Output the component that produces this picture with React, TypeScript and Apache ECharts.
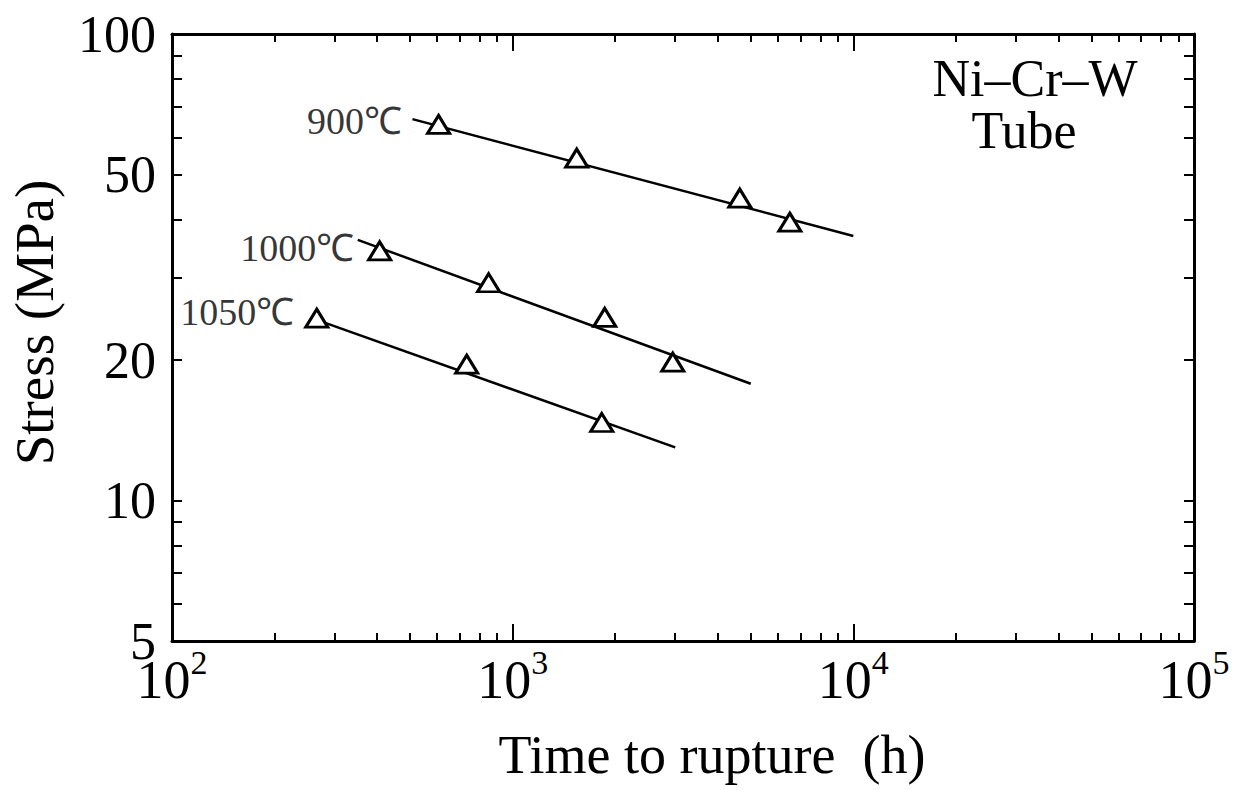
import React, { useEffect, useRef } from "react";
import * as echarts from "echarts";

const seriesNames = ["900℃", "1000℃", "1050℃"];
// measured points (time h, stress MPa)
const pts900 = [[606, 64.0], [1542, 54.2], [4642, 44.5], [6510, 39.5]];
const pts1000 = [[407, 34.3], [850, 29.3], [1863, 24.7], [2951, 19.8]];
const pts1050 = [[266, 24.6], [733, 19.6], [1826, 14.7]];
// fitted lines (start, end)
const fit900 = [[508, 65.7], [10000, 36.9]];
const fit1000 = [[351, 36.2], [5000, 17.8]];
const fit1050 = [[266, 24.4], [3000, 13.0]];

const xMajorTicks = [100, 1000, 10000, 100000];
const xMinorTicks = [200, 300, 400, 500, 600, 700, 800, 900, 2000, 3000, 4000, 5000, 6000, 7000, 8000, 9000, 20000, 30000, 40000, 50000, 60000, 70000, 80000, 90000];
const yTicks = [5, 6, 7, 8, 9, 10, 20, 30, 40, 50, 60, 70, 80, 90, 100];
const yLabels = [5, 10, 20, 50, 100];
const materialLines = ["Ni–Cr–W", "Tube"];

const FONT = "'Liberation Serif', 'Times New Roman', serif";

export default function App() {
  const ref = useRef<HTMLDivElement>(null);
  useEffect(() => {
    if (!ref.current) return;
    const chart = echarts.init(ref.current, undefined, { renderer: "svg" });
    const axisLine = { show: true, onZero: false, lineStyle: { color: "#000", width: 3 } };
    const xBase = { type: "log", logBase: 10, min: 100, max: 100000, splitLine: { show: false } };
    const yBase = { type: "log", logBase: 10, min: 5, max: 100, splitLine: { show: false } };
    const makeFit = (name: string, d: number[][]) => ({
      type: "line",
      name,
      data: d,
      showSymbol: false,
      symbol: "none",
      lineStyle: { color: "#000", width: 2.5 },
      xAxisIndex: 0,
      yAxisIndex: 0,
      z: 2,
    });
    const makePts = (name: string, d: number[][]) => ({
      type: "scatter",
      name: name + " data",
      data: d,
      symbol: "triangle",
      symbolSize: [22, 18],
      itemStyle: { color: "#fff", borderColor: "#000", borderWidth: 3, opacity: 1 },
      xAxisIndex: 0,
      yAxisIndex: 0,
      z: 5,
    });
    const labelItem = (name: string, d: number[][], offset: number[], dist: number) => ({
      value: d[0],
      label: {
        show: true,
        position: "left",
        distance: dist,
        offset,
        formatter: name,
        color: "#000",
        fontFamily: FONT,
        fontSize: 38,
      },
    });
    chart.setOption({
      animation: false,
      backgroundColor: "#fff",
      grid: { left: 172, right: 45, top: 34, bottom: 149, containLabel: false, outerBoundsMode: "none" },
      xAxis: [
        {
          ...xBase,
          position: "bottom",
          axisLine,
          axisTick: { show: true, inside: true, length: 17, customValues: xMajorTicks, lineStyle: { color: "#000", width: 2 } },
          axisLabel: {
            show: true,
            customValues: xMajorTicks,
            margin: 4,
            formatter: (v: number) => `{b|10}{s|${Math.round(Math.log10(v))}}`,
            rich: {
              b: { fontFamily: FONT, fontSize: 54, color: "#000", lineHeight: 70 },
              s: { fontFamily: FONT, fontSize: 34, color: "#000", verticalAlign: "top", lineHeight: 20 },
            },
          },
          name: "Time to rupture  (h)",
          nameLocation: "middle",
          nameGap: 87,
          nameTextStyle: { fontFamily: FONT, fontSize: 54, color: "#000", padding: [0, 0, 0, 58] },
        },
        {
          ...xBase,
          position: "bottom",
          axisLine: { show: false },
          axisTick: { show: true, inside: true, length: 8, customValues: xMinorTicks, lineStyle: { color: "#000", width: 2 } },
          axisLabel: { show: false },
        },
        {
          ...xBase,
          position: "top",
          axisLine,
          axisTick: { show: true, inside: true, length: 17, customValues: xMajorTicks, lineStyle: { color: "#000", width: 2 } },
          axisLabel: { show: false },
        },
        {
          ...xBase,
          position: "top",
          axisLine: { show: false },
          axisTick: { show: true, inside: true, length: 8, customValues: xMinorTicks, lineStyle: { color: "#000", width: 2 } },
          axisLabel: { show: false },
        },
      ],
      yAxis: [
        {
          ...yBase,
          position: "left",
          axisLine,
          axisTick: { show: true, inside: true, length: 10, customValues: yTicks, lineStyle: { color: "#000", width: 2 } },
          axisLabel: {
            show: true,
            customValues: yLabels,
            margin: 16,
            fontFamily: FONT,
            fontSize: 52,
            color: "#000",
            formatter: (v: number) => String(Math.round(v)),
          },
          name: "Stress (MPa)",
          nameLocation: "middle",
          nameRotate: 90,
          nameGap: 110,
          nameTextStyle: { fontFamily: FONT, fontSize: 55, color: "#000", padding: [0, 0, 0, 30] },
        },
        {
          ...yBase,
          position: "right",
          axisLine,
          axisTick: { show: true, inside: true, length: 10, customValues: yTicks, lineStyle: { color: "#000", width: 2 } },
          axisLabel: { show: false },
        },
      ],
      graphic: [
        {
          type: "text",
          x: 1035,
          y: 78,
          style: { text: materialLines[0], font: `52px ${FONT}`, fill: "#000", align: "center", verticalAlign: "middle" },
        },
        {
          type: "text",
          x: 1024,
          y: 130,
          style: { text: materialLines[1], font: `52px ${FONT}`, fill: "#000", align: "center", verticalAlign: "middle" },
        },
      ],
      series: [
        makeFit(seriesNames[0], fit900),
        makeFit(seriesNames[1], fit1000),
        makeFit(seriesNames[2], fit1050),
        makePts(seriesNames[0], pts900),
        makePts(seriesNames[1], pts1000),
        makePts(seriesNames[2], pts1050),
        {
          type: "scatter",
          name: "labels",
          symbolSize: 1,
          itemStyle: { color: "rgba(0,0,0,0)" },
          data: [
            labelItem(seriesNames[0], fit900, [0, 2], 10),
            labelItem(seriesNames[1], fit1000, [0, 8], 3),
            labelItem(seriesNames[2], fit1050, [0, -8], 22),
          ],
          z: 6,
        },
      ],
    });
    return () => chart.dispose();
  }, []);
  return (
    <div
      ref={ref}
      style={{ position: "fixed", left: 0, top: 0, width: 1239, height: 790, background: "#fff" }}
    />
  );
}
